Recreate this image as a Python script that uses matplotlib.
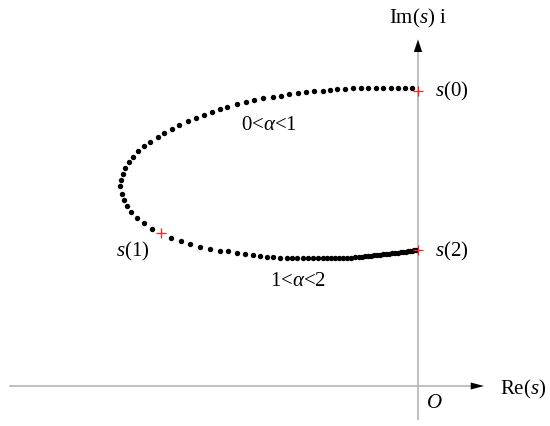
import numpy as np
import matplotlib
matplotlib.use('Agg')
import matplotlib.pyplot as plt

plt.rcParams['font.family'] = ['Liberation Serif', 'DejaVu Serif']
plt.rcParams['mathtext.fontset'] = 'custom'
plt.rcParams['mathtext.rm'] = 'Liberation Serif'
plt.rcParams['mathtext.it'] = 'Liberation Serif:italic'

# points of s(alpha) (upper branch 0<alpha<1)
re_upper = [-0.063, -0.130, -0.200, -0.270, -0.347, -0.420, -0.497, -0.573, -0.647,
            -0.733, -0.807, -0.880, -0.953, -1.037, -1.123, -1.203, -1.287, -1.370,
            -1.453, -1.547, -1.637, -1.720, -1.813, -1.907, -1.985, -2.065, -2.140,
            -2.220, -2.303, -2.387, -2.463, -2.540, -2.603, -2.677, -2.740, -2.800,
            -2.853, -2.893, -2.927, -2.953, -2.973, -2.977, -2.963, -2.940, -2.907,
            -2.870, -2.813, -2.740, -2.657]
im_upper = [2.977, 2.977, 2.977, 2.977, 2.977, 2.977, 2.977, 2.977, 2.977,
            2.970, 2.967, 2.963, 2.953, 2.947, 2.937, 2.927, 2.917, 2.903,
            2.893, 2.877, 2.857, 2.840, 2.817, 2.790, 2.770, 2.740, 2.710,
            2.677, 2.647, 2.613, 2.573, 2.533, 2.493, 2.443, 2.397, 2.347,
            2.293, 2.237, 2.183, 2.123, 2.063, 1.997, 1.920, 1.863, 1.803,
            1.737, 1.677, 1.627, 1.570]

# lower branch 1<alpha<2
re_lower = [-2.473, -2.373, -2.280, -2.180, -2.075, -1.985, -1.897, -1.813, -1.730,
            -1.653, -1.580, -1.513, -1.447, -1.380, -1.313, -1.263, -1.207, -1.153,
            -1.103, -1.047, -0.997, -0.950, -0.910, -0.870, -0.830, -0.790, -0.750,
            -0.710, -0.670, -0.630, -0.590, -0.560, -0.530, -0.500, -0.470, -0.440,
            -0.410, -0.380, -0.350, -0.320, -0.290, -0.260, -0.230, -0.200, -0.175,
            -0.150, -0.125, -0.100, -0.080, -0.060, -0.040, -0.020]
im_lower = [1.483, 1.450, 1.420, 1.390, 1.368, 1.354, 1.347, 1.333, 1.320,
            1.310, 1.300, 1.293, 1.287, 1.283, 1.280, 1.277, 1.277, 1.277,
            1.277, 1.277, 1.277, 1.277, 1.277, 1.277, 1.277, 1.277, 1.278,
            1.281, 1.285, 1.288, 1.292, 1.295, 1.298, 1.301, 1.304, 1.308,
            1.311, 1.314, 1.317, 1.320, 1.323, 1.326, 1.330, 1.334, 1.337,
            1.340, 1.344, 1.348, 1.351, 1.354, 1.358, 1.362]

# s(0), s(1), s(2)
re_marks = [0.0, -2.575, 0.0]
im_marks = [2.955, 1.535, 1.36]
mark_labels = [r'$s$(0)', r'$s$(1)', r'$s$(2)']

fig = plt.figure(figsize=(5.5, 4.27), dpi=100)
ax = fig.add_axes([0, 0, 1, 1])
ax.set_xlim(-4.18, 1.32)
ax.set_ylim(-0.40, 3.87)
ax.axis('off')

# axes with arrows
ax.plot([-4.08, 0.62], [0, 0], color='#b4b4b4', lw=1.2, zorder=1)
ax.plot([0, 0], [-0.33, 3.42], color='#b4b4b4', lw=1.2, zorder=1)
ax.annotate('', xy=(0.66, 0), xytext=(0.50, 0),
            arrowprops=dict(arrowstyle='-|>,head_length=0.95,head_width=0.25',
                            color='black', lw=0.01, shrinkA=0, shrinkB=0))
ax.annotate('', xy=(0, 3.465), xytext=(0, 3.30),
            arrowprops=dict(arrowstyle='-|>,head_length=0.9,head_width=0.3',
                            color='black', lw=0.01, shrinkA=0, shrinkB=0))

ax.scatter(re_upper, im_upper, s=15, color='black', lw=0, zorder=3)
ax.scatter(re_lower, im_lower, s=15, color='black', lw=0, zorder=3)
ax.plot(re_marks, im_marks, '+', color='#ff2020', ms=7, mew=0.9, zorder=4)

fs = 15
ax.text(0.17, im_marks[0], mark_labels[0], fontsize=fs, ha='left', va='center')
ax.text(-2.855, 1.355, mark_labels[1], fontsize=fs, ha='center', va='center')
ax.text(0.17, im_marks[2], mark_labels[2], fontsize=fs, ha='left', va='center')
ax.text(-1.49, 2.61, r'0<$\alpha$<1', fontsize=fs, ha='center', va='center')
ax.text(-1.20, 1.06, r'1<$\alpha$<2', fontsize=fs, ha='center', va='center')
ax.text(0.0, 3.69, r'Im($s$) i', fontsize=fs, ha='center', va='center')
ax.text(0.82, -0.02, r'Re($s$)', fontsize=fs, ha='left', va='center')
ax.text(0.16, -0.17, r'$O$', fontsize=fs, ha='center', va='center')

fig.savefig('out.png', dpi=100)
